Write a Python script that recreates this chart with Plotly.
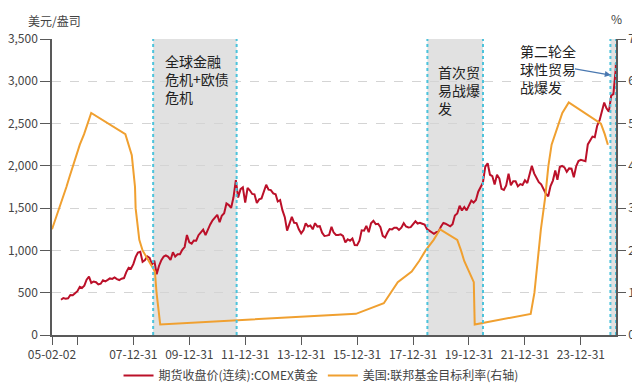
import plotly.graph_objects as go
import pandas as pd

# ---------------- data ----------------
gold_start = "2005-05-31"
gold_values = [
    # 2005 May-Dec
    417, 437, 430, 434, 473, 470, 495, 518,
    # 2006
    569, 556, 583, 654, 690, 616, 633, 624, 598, 606, 647, 635,
    # 2007
    651, 669, 663, 680, 660, 650, 666, 673, 744, 794, 783, 838,
    # 2008
    924, 975, 985, 865, 886, 930, 912, 834, 880, 718, 816, 884,
    # 2009
    928, 942, 924, 887, 979, 927, 955, 955, 1008, 1040, 1182, 1096,
    # 2010
    1081, 1118, 1115, 1180, 1213, 1245, 1181, 1248, 1307, 1357, 1386, 1421,
    # 2011
    1333, 1411, 1439, 1556, 1536, 1502, 1628, 1830, 1625, 1725, 1746, 1566,
    # 2012
    1738, 1711, 1668, 1664, 1561, 1604, 1615, 1687, 1776, 1719, 1713, 1675,
    # 2013
    1664, 1578, 1596, 1476, 1393, 1234, 1312, 1396, 1327, 1323, 1250, 1202,
    # 2014
    1240, 1321, 1284, 1296, 1250, 1322, 1282, 1287, 1210, 1171, 1175, 1184,
    # 2015
    1279, 1212, 1183, 1182, 1190, 1172, 1095, 1132, 1114, 1141, 1064, 1061,
    # 2016
    1116, 1238, 1234, 1291, 1215, 1321, 1350, 1311, 1315, 1275, 1173, 1152,
    # 2017
    1212, 1253, 1249, 1268, 1269, 1242, 1269, 1322, 1283, 1271, 1275, 1309,
    # 2018
    1345, 1318, 1327, 1316, 1305, 1253, 1233, 1206, 1196, 1215, 1226, 1283,
    # 2019
    1325, 1316, 1298, 1285, 1311, 1413, 1437, 1529, 1472, 1514, 1473, 1523,
    # 2020
    1589, 1566, 1597, 1694, 1751, 1800, 1990, 2030, 1895, 1879, 1780, 1895,
    # 2021
    1850, 1728, 1715, 1768, 1906, 1771, 1817, 1818, 1757, 1784, 1774, 1829,
    # 2022
    1797, 1909, 2000, 1911, 1848, 1807, 1781, 1726, 1672, 1640, 1760, 1826,
    # 2023
    1945, 1836, 1986, 1999, 1982, 1929, 1970, 1966, 1866, 1996, 2057, 2072,
    # 2024
    2067, 2054, 2254, 2303, 2346, 2339, 2473, 2536, 2660, 2749, 2681, 2641,
    # 2025 Jan-Mar
    2835, 2848, 3150,
]
gold_last_date = "2025-04-01"
gold_last_value = 3215

rate_dates = [
    "2005-02-02", "2005-03-22", "2005-05-03", "2005-06-30", "2005-08-09", "2005-09-20",
    "2005-11-01", "2005-12-13", "2006-01-31", "2006-03-28", "2006-05-10", "2006-06-29",
    "2007-09-18", "2007-10-31", "2007-12-11", "2008-01-22", "2008-01-30", "2008-03-18",
    "2008-04-30", "2008-10-08", "2008-10-29", "2008-12-16", "2015-12-16", "2016-12-14",
    "2017-03-15", "2017-06-14", "2017-12-13", "2018-03-21", "2018-06-13", "2018-09-26",
    "2018-12-19", "2019-07-31", "2019-09-18", "2019-10-30", "2020-03-03", "2020-03-15",
    "2022-03-16", "2022-05-04", "2022-06-15", "2022-07-27", "2022-09-21", "2022-11-02",
    "2022-12-14", "2023-02-01", "2023-03-22", "2023-05-03", "2023-07-26", "2024-09-18",
    "2024-11-07", "2024-12-18",
]
rate_values = [
    2.5, 2.75, 3.0, 3.25, 3.5, 3.75,
    4.0, 4.25, 4.5, 4.75, 5.0, 5.25,
    4.75, 4.5, 4.25, 3.5, 3.0, 2.25,
    2.0, 1.5, 1.0, 0.25, 0.5, 0.75,
    1.0, 1.25, 1.5, 1.75, 2.0, 2.25,
    2.5, 2.25, 2.0, 1.75, 1.25, 0.25,
    0.5, 1.0, 1.75, 2.5, 3.25, 4.0,
    4.5, 4.75, 5.0, 5.25, 5.5, 5.0,
    4.75, 4.5,
]

bands = [("2008-09-15", "2011-09-10"), ("2018-07-06", "2020-07-01"), ("2025-01-20", "2025-04-03")]
band_labels = ["全球金融<br>危机+欧债<br>危机", "首次贸<br>易战爆<br>发", "第二轮全<br>球性贸易<br>战爆发"]

x_tickvals = ["2005-02-02", "2005-12-31", "2007-12-31", "2009-12-31", "2011-12-31", "2013-12-31",
              "2015-12-31", "2017-12-31", "2019-12-31", "2021-12-31", "2023-12-31"]
x_ticktext = ["05-02-02", "", "07-12-31", "09-12-31", "11-12-31", "13-12-31",
              "15-12-31", "17-12-31", "19-12-31", "21-12-31", "23-12-31"]

gold_name = "期货收盘价(连续):COMEX黄金"
rate_name = "美国:联邦基金目标利率(右轴)"

# ---------------- build ----------------
gold_dates = list(pd.date_range(gold_start, periods=len(gold_values), freq="ME").strftime("%Y-%m-%d"))
gold_dates.append(gold_last_date)
gold_all = gold_values + [gold_last_value]

FONT = "Noto Sans CJK SC, Noto Sans, sans-serif"
AX = "#595959"
TXT = "#444"

fig = go.Figure()
fig.add_trace(go.Scatter(x=gold_dates, y=gold_all, mode="lines", name=gold_name,
                         line=dict(color="#bb1029", width=2)))
fig.add_trace(go.Scatter(x=rate_dates, y=rate_values, mode="lines", name=rate_name, yaxis="y2",
                         line=dict(color="#f0a030", width=2)))

shapes = []
for s, e in bands:
    shapes.append(dict(type="rect", xref="x", yref="paper", x0=s, x1=e, y0=0, y1=1,
                       fillcolor="rgba(140,140,140,0.26)", line=dict(width=0), layer="below"))
    for xx in (s, e):
        shapes.append(dict(type="line", xref="x", yref="paper", x0=xx, x1=xx, y0=0, y1=1,
                           line=dict(color="#4cc3dc", width=2, dash="dot"), layer="above"))
fig.update_layout(shapes=shapes)

lab_font = dict(size=14, color="#222", family=FONT)
fig.add_annotation(x="2009-01-20", y=3380, xref="x", yref="y", text=band_labels[0], showarrow=False,
                   xanchor="left", yanchor="top", align="left", font=lab_font)
fig.add_annotation(x="2018-10-20", y=3255, xref="x", yref="y", text=band_labels[1], showarrow=False,
                   xanchor="left", yanchor="top", align="left", font=lab_font)
fig.add_annotation(x="2021-10-01", y=1.0, xref="x", yref="paper", text=band_labels[2], showarrow=False,
                   xanchor="left", yanchor="top", align="left", font=lab_font)
fig.add_annotation(x="2025-01-25", y=3073, xref="x", yref="y", ax="2023-09-25", ay=3150,
                   axref="x", ayref="y", text="", showarrow=True, arrowhead=2, arrowsize=1,
                   arrowwidth=1.2, arrowcolor="#4a78b0")
fig.add_annotation(x=-0.046, y=1.064, xref="paper", yref="paper", xanchor="left", yanchor="middle",
                   text="美元/盎司", showarrow=False, font=dict(size=12, color=TXT, family=FONT))
fig.add_annotation(x=1.0, y=1.07, xref="paper", yref="paper", xanchor="center", yanchor="middle",
                   text="%", showarrow=False, font=dict(size=12, color=TXT, family=FONT))

fig.update_layout(
    width=640, height=383,
    margin=dict(l=44, r=32, t=31, b=56, autoexpand=False),
    paper_bgcolor="white", plot_bgcolor="white",
    font=dict(family=FONT, size=12, color=TXT),
    showlegend=True,
    legend=dict(orientation="h", x=0.477, xanchor="center", y=-0.088, yanchor="top",
                font=dict(size=12, color=TXT, family=FONT), bgcolor="rgba(0,0,0,0)",
                itemwidth=30),
    xaxis=dict(type="date", range=["2005-02-02", "2025-04-03"], tickvals=x_tickvals, ticktext=x_ticktext,
               showgrid=False, showline=True, linecolor=AX, linewidth=1.5, ticks="outside",
               ticklen=8, tickcolor=AX, tickwidth=1.2, tickfont=dict(size=12, color=TXT),
               zeroline=False, tickangle=0, automargin=False),
    yaxis=dict(range=[0, 3500], tickvals=[0, 500, 1000, 1500, 2000, 2500, 3000, 3500], tickformat=",d",
               showgrid=True, gridcolor="#d4d4d4", griddash="dash", gridwidth=1,
               showline=True, linecolor=AX, linewidth=1.5, ticks="outside", ticklen=10,
               tickcolor=AX, tickwidth=1.2, zeroline=False, tickfont=dict(size=12, color=TXT),
               automargin=False),
    yaxis2=dict(range=[0, 7], tickvals=[0, 1, 2, 3, 4, 5, 6, 7], overlaying="y", side="right",
                showgrid=False, showline=True, linecolor=AX, linewidth=1.5, ticks="outside",
                ticklen=8, tickcolor=AX, tickwidth=1.2, zeroline=False,
                tickfont=dict(size=12, color=TXT), automargin=False),
)

fig.write_html("out.html")
